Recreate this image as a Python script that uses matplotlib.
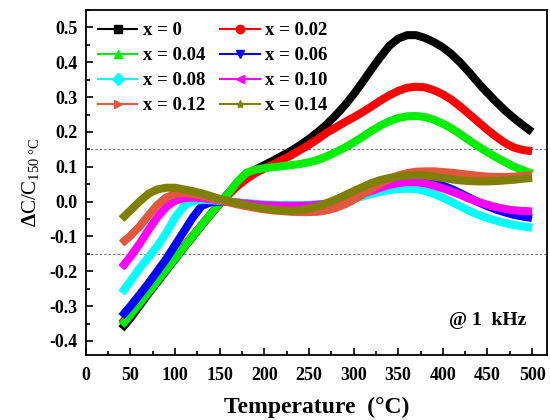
import numpy as np
import matplotlib
matplotlib.use('Agg')
import matplotlib.pyplot as plt
from matplotlib.lines import Line2D
from matplotlib.ticker import MultipleLocator

plt.rcParams['font.family'] = ['Liberation Serif', 'DejaVu Serif']
plt.rcParams['font.weight'] = 'bold'
plt.rcParams['mathtext.fontset'] = 'custom'
plt.rcParams['mathtext.rm'] = 'Liberation Serif:bold'
plt.rcParams['mathtext.bf'] = 'Liberation Serif:bold'
plt.rcParams['mathtext.it'] = 'Liberation Serif:bold:italic'

# --- data (temperature in degC, dC/C150) ---
temp = list(range(40, 501, 10))

x000 = [-0.365, -0.335, -0.300, -0.265, -0.232, -0.198, -0.165, -0.132, -0.100, -0.068,
        -0.036, -0.005, 0.025, 0.052, 0.075, 0.092, 0.105, 0.118, 0.132, 0.146,
        0.162, 0.180, 0.200, 0.222, 0.248, 0.276, 0.308, 0.343, 0.380, 0.415,
        0.447, 0.468, 0.478, 0.478, 0.470, 0.458, 0.443, 0.423, 0.398, 0.370,
        0.340, 0.312, 0.286, 0.261, 0.239, 0.219, 0.200]
x002 = [-0.350, -0.320, -0.290, -0.258, -0.225, -0.193, -0.160, -0.128, -0.097, -0.066,
        -0.036, -0.007, 0.020, 0.045, 0.065, 0.082, 0.095, 0.107, 0.120, 0.133,
        0.148, 0.163, 0.180, 0.198, 0.213, 0.228, 0.242, 0.257, 0.273, 0.290,
        0.305, 0.318, 0.327, 0.330, 0.328, 0.320, 0.308, 0.292, 0.272, 0.250,
        0.228, 0.206, 0.186, 0.168, 0.155, 0.148, 0.145]
x004 = [-0.355, -0.325, -0.293, -0.260, -0.228, -0.195, -0.163, -0.130, -0.098, -0.066,
        -0.035, -0.005, 0.025, 0.058, 0.083, 0.092, 0.096, 0.099, 0.102, 0.105,
        0.108, 0.113, 0.120, 0.130, 0.142, 0.155, 0.170, 0.186, 0.203, 0.218,
        0.231, 0.240, 0.245, 0.246, 0.243, 0.235, 0.224, 0.210, 0.193, 0.175,
        0.158, 0.142, 0.127, 0.113, 0.100, 0.090, 0.080]
x006 = [-0.330, -0.300, -0.268, -0.235, -0.200, -0.165, -0.125, -0.085, -0.045, -0.012,
        -0.002, 0.000, 0.000, -0.003, -0.005, -0.008, -0.010, -0.011, -0.012, -0.012,
        -0.012, -0.011, -0.009, -0.006, -0.001, 0.006, 0.014, 0.023, 0.033, 0.042,
        0.050, 0.056, 0.060, 0.061, 0.059, 0.054, 0.046, 0.036, 0.024, 0.011,
        -0.002, -0.013, -0.023, -0.031, -0.038, -0.043, -0.047]
x008 = [-0.262, -0.228, -0.192, -0.160, -0.128, -0.090, -0.045, -0.012, 0.001, 0.005,
        0.004, 0.002, 0.000, -0.003, -0.005, -0.006, -0.008, -0.009, -0.010, -0.010,
        -0.010, -0.009, -0.008, -0.006, -0.003, 0.002, 0.008, 0.015, 0.022, 0.028,
        0.033, 0.036, 0.037, 0.036, 0.031, 0.022, 0.011, -0.001, -0.014, -0.027,
        -0.038, -0.047, -0.055, -0.062, -0.067, -0.071, -0.075]
x010 = [-0.190, -0.158, -0.122, -0.082, -0.045, -0.015, 0.003, 0.010, 0.012, 0.010,
        0.007, 0.004, 0.000, -0.003, -0.006, -0.008, -0.010, -0.011, -0.012, -0.012,
        -0.012, -0.011, -0.009, -0.006, -0.001, 0.006, 0.013, 0.022, 0.031, 0.040,
        0.048, 0.053, 0.056, 0.056, 0.053, 0.046, 0.038, 0.029, 0.019, 0.008,
        -0.001, -0.009, -0.016, -0.021, -0.025, -0.027, -0.028]
x012 = [-0.120, -0.098, -0.072, -0.040, -0.010, 0.012, 0.022, 0.025, 0.022, 0.017,
        0.010, 0.004, -0.002, -0.008, -0.013, -0.018, -0.022, -0.025, -0.027, -0.029,
        -0.030, -0.030, -0.029, -0.025, -0.018, -0.008, 0.005, 0.020, 0.037, 0.052,
        0.065, 0.075, 0.082, 0.086, 0.087, 0.087, 0.085, 0.083, 0.080, 0.077,
        0.074, 0.072, 0.071, 0.071, 0.072, 0.074, 0.076]
x014 = [-0.050, -0.025, 0.000, 0.022, 0.035, 0.040, 0.040, 0.035, 0.030, 0.024,
        0.016, 0.008, 0.002, -0.005, -0.010, -0.015, -0.020, -0.023, -0.025, -0.026,
        -0.024, -0.020, -0.013, -0.004, 0.006, 0.018, 0.030, 0.042, 0.053, 0.062,
        0.068, 0.072, 0.075, 0.076, 0.075, 0.072, 0.068, 0.064, 0.061, 0.059,
        0.058, 0.058, 0.059, 0.061, 0.063, 0.066, 0.068]

labels = ['x = 0', 'x = 0.02', 'x = 0.04', 'x = 0.06',
          'x = 0.08', 'x = 0.10', 'x = 0.12', 'x = 0.14']
series = [x000, x002, x004, x006, x008, x010, x012, x014]
colors = ['black', 'red', '#00ee00', 'blue', 'cyan', 'magenta', '#e2583e', '#808000']
markers = ['s', 'o', '^', 'v', 'D', '<', '>', '*']

fig = plt.figure(figsize=(5.5, 4.2), dpi=100)
ax = fig.add_axes([0.156, 0.155, 0.839, 0.821])

# dashed guide lines at +-0.15
for yv in (0.15, -0.15):
    ax.axhline(yv, color='#806868', lw=0.8, ls=(0, (2, 2)), zorder=1)

for y, c in zip(series, colors):
    ax.plot(temp, y, color=c, lw=5.8, solid_joinstyle='round',
            solid_capstyle='butt', zorder=2)

ax.set_xlim(0, 517)
ax.set_ylim(-0.44, 0.55)
ax.xaxis.set_major_locator(MultipleLocator(50))
ax.xaxis.set_minor_locator(MultipleLocator(25))
ax.yaxis.set_major_locator(MultipleLocator(0.1))
ax.yaxis.set_minor_locator(MultipleLocator(0.05))
ax.yaxis.set_major_formatter(plt.FuncFormatter(lambda v, p: f'{v:.1f}'))
ax.tick_params(which='both', direction='in', width=1.2, labelsize=13)
ax.tick_params(which='major', length=5)
ax.tick_params(which='minor', length=3)
ax.tick_params(axis='x', pad=9)
ax.tick_params(axis='y', pad=6)
for s in ax.spines.values():
    s.set_linewidth(1.3)

ax.set_xlabel('Temperature  (°C)', fontsize=17, fontweight='bold', labelpad=9)
ax.set_ylabel(r'$\Delta$C/C$_{\mathregular{150\ °C}}$', fontsize=15, labelpad=6)

ax.text(450, -0.342, '@ 1  kHz', fontsize=14, fontweight='bold', ha='center', va='center')

# legend filled row by row: reorder for matplotlib's column-major fill
order = [0, 2, 4, 6, 1, 3, 5, 7]
handles = [Line2D([], [], color=colors[i], marker=markers[i], lw=1.5, markersize=6)
           for i in order]
ax.legend(handles, [labels[i] for i in order], loc='upper left', ncol=2, frameon=False,
          handlelength=2.1, handletextpad=0.3, columnspacing=0.8,
          labelspacing=0.42, borderaxespad=0.25, bbox_to_anchor=(0.0, 1.0),
          prop={'weight': 'bold', 'size': 13.5})

fig.savefig('out.png', dpi=100)
